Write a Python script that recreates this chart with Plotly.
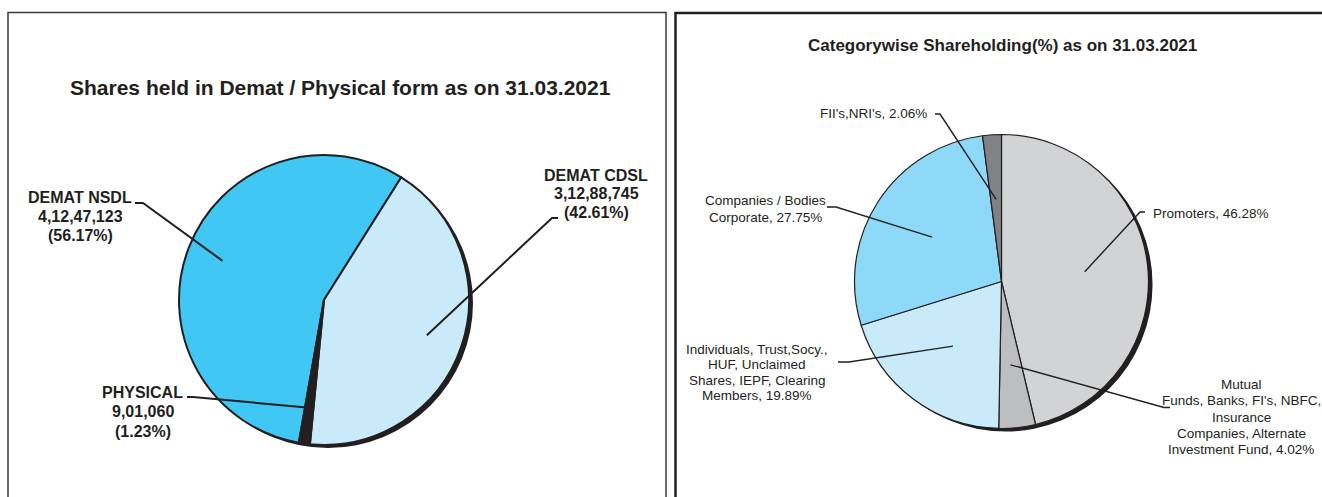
import math
import plotly.graph_objects as go

W, H = 1322, 497

# ---------------- data ----------------
left_title = "Shares held in Demat / Physical form as on 31.03.2021"
left_labels = ["DEMAT NSDL", "DEMAT CDSL", "PHYSICAL"]
left_shares = [41247123, 31288745, 901060]
left_share_text = ["4,12,47,123", "3,12,88,745", "9,01,060"]
left_pct_text = ["(56.17%)", "(42.61%)", "(1.23%)"]
left_colors = ["#40C7F4", "#C8EAF9", "#231F20"]

right_title = "Categorywise Shareholding(%) as on 31.03.2021"
right_labels = ["Promoters", "Mutual Funds, Banks, FI's, NBFC, Insurance Companies, Alternate Investment Fund",
                "Individuals, Trust,Socy., HUF, Unclaimed Shares, IEPF, Clearing Members",
                "Companies / Bodies Corporate", "FII's,NRI's"]
right_pct = [46.28, 4.02, 19.89, 27.75, 2.06]
right_colors = ["#D1D3D4", "#BCBEC0", "#C8EAF9", "#8DD9F7", "#808285"]

INK = "#231F20"


def X(px):
    return px / W


def Y(py):
    return 1 - py / H


def domain(cx, cy, r, dx=0, dy=0):
    return dict(x=[X(cx - r + dx), X(cx + r + dx)], y=[Y(cy + r + dy), Y(cy - r + dy)])


def mid_point(values, idx, rotation, cx, cy, r, frac):
    tot = sum(values)
    start = rotation + 360 * sum(values[:idx]) / tot
    ang = math.radians(start + 180 * values[idx] / tot)
    return cx + frac * r * math.sin(ang), cy - frac * r * math.cos(ang)


fig = go.Figure()

# ---------------- left pie ----------------
LCX, LCY, LR, LROT = 324, 300, 145, 190
fig.add_trace(go.Pie(values=[1], marker=dict(colors=[INK]), domain=domain(LCX, LCY, LR, 4, 3),
                     textinfo="none", hoverinfo="skip", showlegend=False, sort=False))
fig.add_trace(go.Pie(labels=left_labels, values=left_shares, sort=False, direction="clockwise",
                     rotation=LROT, marker=dict(colors=left_colors, line=dict(color=INK, width=2)),
                     domain=domain(LCX, LCY, LR), textinfo="none", showlegend=False))

# ---------------- right pie ----------------
RCX, RCY, RR, RROT = 1001.5, 281.5, 147, 0
fig.add_trace(go.Pie(values=[1], marker=dict(colors=[INK]), domain=domain(RCX, RCY, RR, 4, 3),
                     textinfo="none", hoverinfo="skip", showlegend=False, sort=False))
fig.add_trace(go.Pie(labels=right_labels, values=right_pct, sort=False, direction="clockwise",
                     rotation=RROT, marker=dict(colors=right_colors, line=dict(color=INK, width=1.2)),
                     domain=domain(RCX, RCY, RR), textinfo="none", showlegend=False))

annotations = []
shapes = []


def text(x, y, s, size, bold=False, xanchor="center"):
    annotations.append(dict(x=X(x), y=Y(y), xref="paper", yref="paper", text=f"<b>{s}</b>" if bold else s,
                            showarrow=False, xanchor=xanchor, yanchor="middle",
                            font=dict(family="Liberation Sans, Arial, sans-serif", size=size, color=INK)))


def block(x, y0, lines, dy, size, bold=False, xanchor="center"):
    for i, s in enumerate(lines):
        text(x, y0 + i * dy, s, size, bold, xanchor)


def leader(p0, p1, p2, width):
    path = f"M {X(p0[0])},{Y(p0[1])} L {X(p1[0])},{Y(p1[1])} L {X(p2[0])},{Y(p2[1])}"
    shapes.append(dict(type="path", xref="paper", yref="paper", path=path,
                       line=dict(color=INK, width=width)))


# titles
text(340, 87, left_title, 21, bold=True)
text(1002, 46, right_title, 17, bold=True)

# left labels
block(80, 198, [left_labels[0], left_share_text[0], left_pct_text[0]], 18.5, 16, bold=True)
block(596, 175, [left_labels[1], left_share_text[1], left_pct_text[1]], 18.5, 16, bold=True)
block(142.5, 392, [left_labels[2], left_share_text[2], left_pct_text[2]], 19.5, 16, bold=True)

leader((135, 203), (143, 203), mid_point(left_shares, 0, LROT, LCX, LCY, LR, 0.75), 2)
leader((558, 218), (552, 218), mid_point(left_shares, 1, LROT, LCX, LCY, LR, 0.75), 2)
leader((187, 397), (193, 397), mid_point(left_shares, 2, LROT, LCX, LCY, LR, 0.75), 2)

# right labels
RF = 13.5
text(929, 114, f"{right_labels[4]}, {right_pct[4]:.2f}%", RF, xanchor="right")
block(765, 200.5, ["Companies / Bodies", f"Corporate, {right_pct[3]:.2f}%"], 16.5, RF)
text(1151, 214, f"{right_labels[0]}, {right_pct[0]:.2f}%", RF, xanchor="left")
block(757, 349, ["Individuals, Trust,Socy.,", "HUF, Unclaimed", "Shares, IEPF, Clearing",
                 f"Members, {right_pct[2]:.2f}%"], 15.5, RF)
block(1241, 384.5, ["Mutual", "Funds, Banks, FI's, NBFC,", "Insurance", "Companies, Alternate",
                    f"Investment Fund, {right_pct[1]:.2f}%"], 16.3, RF)

leader((935, 114), (940, 114), mid_point(right_pct, 4, RROT, RCX, RCY, RR, 0.56), 1.4)
leader((827, 207), (836, 207), mid_point(right_pct, 3, RROT, RCX, RCY, RR, 0.56), 1.4)
leader((1145, 212), (1140, 212), mid_point(right_pct, 0, RROT, RCX, RCY, RR, 0.57), 1.4)
leader((838, 362), (849, 362), mid_point(right_pct, 2, RROT, RCX, RCY, RR, 0.55), 1.4)
leader((1170, 407.5), (1164, 407.5), mid_point(right_pct, 1, RROT, RCX, RCY, RR, 0.57), 1.4)

# panel borders
shapes.append(dict(type="rect", xref="paper", yref="paper", x0=X(8), x1=X(666), y0=Y(520), y1=Y(12.5),
                   line=dict(color="#3A3A3A", width=1.5), layer="below"))
shapes.append(dict(type="rect", xref="paper", yref="paper", x0=X(675.5), x1=X(1340), y0=Y(520), y1=Y(13),
                   line=dict(color=INK, width=2.5), layer="below"))

fig.update_layout(width=W, height=H, margin=dict(l=0, r=0, t=0, b=0),
                  paper_bgcolor="white", plot_bgcolor="white",
                  annotations=annotations, shapes=shapes, showlegend=False)

fig.write_html("out.html", config={"displayModeBar": False},
               post_script="document.body.style.margin='0';document.body.style.overflow='hidden';")
